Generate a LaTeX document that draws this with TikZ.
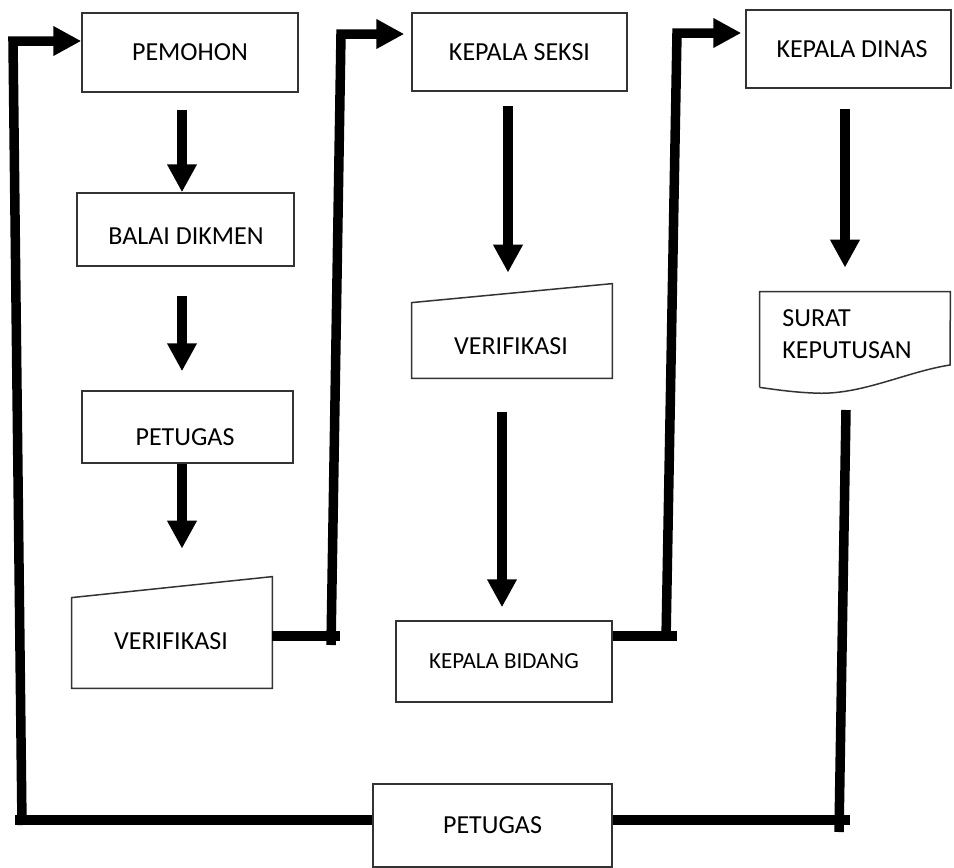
\documentclass[tikz,border=0pt]{standalone}
\usepackage{fontspec}
\setmainfont{Carlito}
\usetikzlibrary{calc}
\usetikzlibrary{arrows.meta}

\tikzset{
  box/.style = {draw = black!80, line width = 0.75pt, inner sep = 0pt},
  blank/.style = {inner sep = 0pt},
  txt/.style = {inner sep = 0pt},
  flow/.style = {line width = 4.75pt, -{Triangle[length = 14pt, width = 14pt]}},
  link/.style = {line width = 4.75pt}
}

\begin{document}
\begin{tikzpicture}[x = 0.5pt, y = -0.5pt, font = \fontsize{13}{16}\selectfont]
\useasboundingbox (0,0) rectangle (954,868);

% left column
\draw (190,52.5) node[name = pem, box, minimum width = 108pt, minimum height = 39.5pt]{PEMOHON};
\draw (185.5,229.5) node[name = balai, box, minimum width = 108.5pt, minimum height = 36.5pt]{};
\draw (186,236) node[name = balaitxt, txt]{BALAI DIKMEN};
\draw (187.5,427) node[name = pet1, box, minimum width = 105.5pt, minimum height = 36pt]{};
\draw (185,437) node[name = pet1txt, txt]{PETUGAS};
\draw (172,632.5) node[name = ver1, blank, minimum width = 100pt, minimum height = 55.5pt]{};
\draw[black!80, line width = 0.75pt] (ver1.south west) -- ([yshift = -10.5pt]ver1.north west) -- (ver1.north east) -- (ver1.south east) -- cycle;
\draw (171,641) node[name = ver1txt, txt]{VERIFIKASI};

% middle column
\draw (519.5,52) node[name = seksi, box, minimum width = 107.5pt, minimum height = 39pt]{KEPALA SEKSI};
\draw (512,331) node[name = ver2, blank, minimum width = 100pt, minimum height = 47pt]{};
\draw[black!80, line width = 0.75pt] (ver2.south west) -- ([yshift = -9.5pt]ver2.north west) -- (ver2.north east) -- (ver2.south east) -- cycle;
\draw (511,346) node[name = ver2txt, txt]{VERIFIKASI};
\draw (504,661.5) node[name = bidang, box, minimum width = 108pt, minimum height = 40.5pt, font = \fontsize{11.5}{14}\selectfont]{KEPALA BIDANG};

% right column
\draw (848.5,49) node[name = dinas, box, minimum width = 102.5pt, minimum height = 39pt]{};
\draw (852,49) node[name = dinastxt, txt]{KEPALA DINAS};
\draw (855,339.5) node[name = surat, blank, minimum width = 95pt, minimum height = 47.5pt]{};
\draw[black!80, line width = 0.75pt] (surat.south west) -- (surat.north west) -- (surat.north east) -- (950,365)
  .. controls (905,372) and (860,396) .. (813,393) .. controls (790,392) and (772,389) .. (surat.south west);
\draw (782,334.5) node[name = surattxt, txt, anchor = west, align = left]{SURAT\\KEPUTUSAN};

% bottom
\draw (492.5,825.5) node[name = pet2, box, minimum width = 119.5pt, minimum height = 41.5pt]{PETUGAS};

% down arrows
\draw[flow, shorten <= 8.5pt] ($(pem.south)+(-8,0)$) -- ($(balai.north)+(-3.5,0)$);
\draw[flow, shorten <= 14.5pt, shorten >= 9.5pt] ($(balai.south)+(-3.5,0)$) -- ($(pet1.north)+(-5.5,0)$);
\draw[flow, shorten >= 14pt] ($(pet1.south)+(-5.5,0)$) -- ($(ver1.north)+(10,0)$);
\draw[flow, shorten <= 7pt, shorten >= 5.5pt] ($(seksi.south)+(-11.5,0)$) -- ($(ver2.north)+(-4,0)$);
\draw[flow, shorten <= 17pt, shorten >= 6.5pt] ($(ver2.south)+(-10,0)$) -- ($(bidang.north)+(-2,0)$);
\draw[flow, shorten <= 10pt, shorten >= 12pt] ($(dinas.south)+(-3.5,0)$) -- ($(surat.north)+(-10,0)$);

% verifikasi -> kepala seksi
\coordinate (a1) at (340,636);
\coordinate (a2) at (331,645);
\coordinate (a3) at (341,34);
\draw[link] (ver1.east |- a1) -- (a1);
\draw[flow, shorten >= 3.5pt] (a2) -- (a3) -- (a3 -| seksi.west);

% kepala bidang -> kepala dinas
\coordinate (b1) at (677,636);
\coordinate (b2) at (666,640);
\coordinate (b3) at (677,33);
\draw[link] (bidang.east |- b1) -- (b1);
\draw[flow, shorten >= 2pt] (b2) -- (b3) -- (b3 -| dinas.west);

% surat keputusan -> petugas -> pemohon
\coordinate (c1) at (846,410);
\coordinate (c2) at (839,832);
\coordinate (c3) at (850,820);
\draw[link] (c1) -- (c2);
\draw[link] (c3) -- (c3 -| pet2.east);
\coordinate (d1) at (15,820);
\coordinate (d2) at (22,825);
\coordinate (d3) at (13,41);
\draw[link] (pet2.west |- d1) -- (d1);
\draw[flow] (d2) -- (d3) -- (d3 -| pem.west);

\end{tikzpicture}
\end{document}
